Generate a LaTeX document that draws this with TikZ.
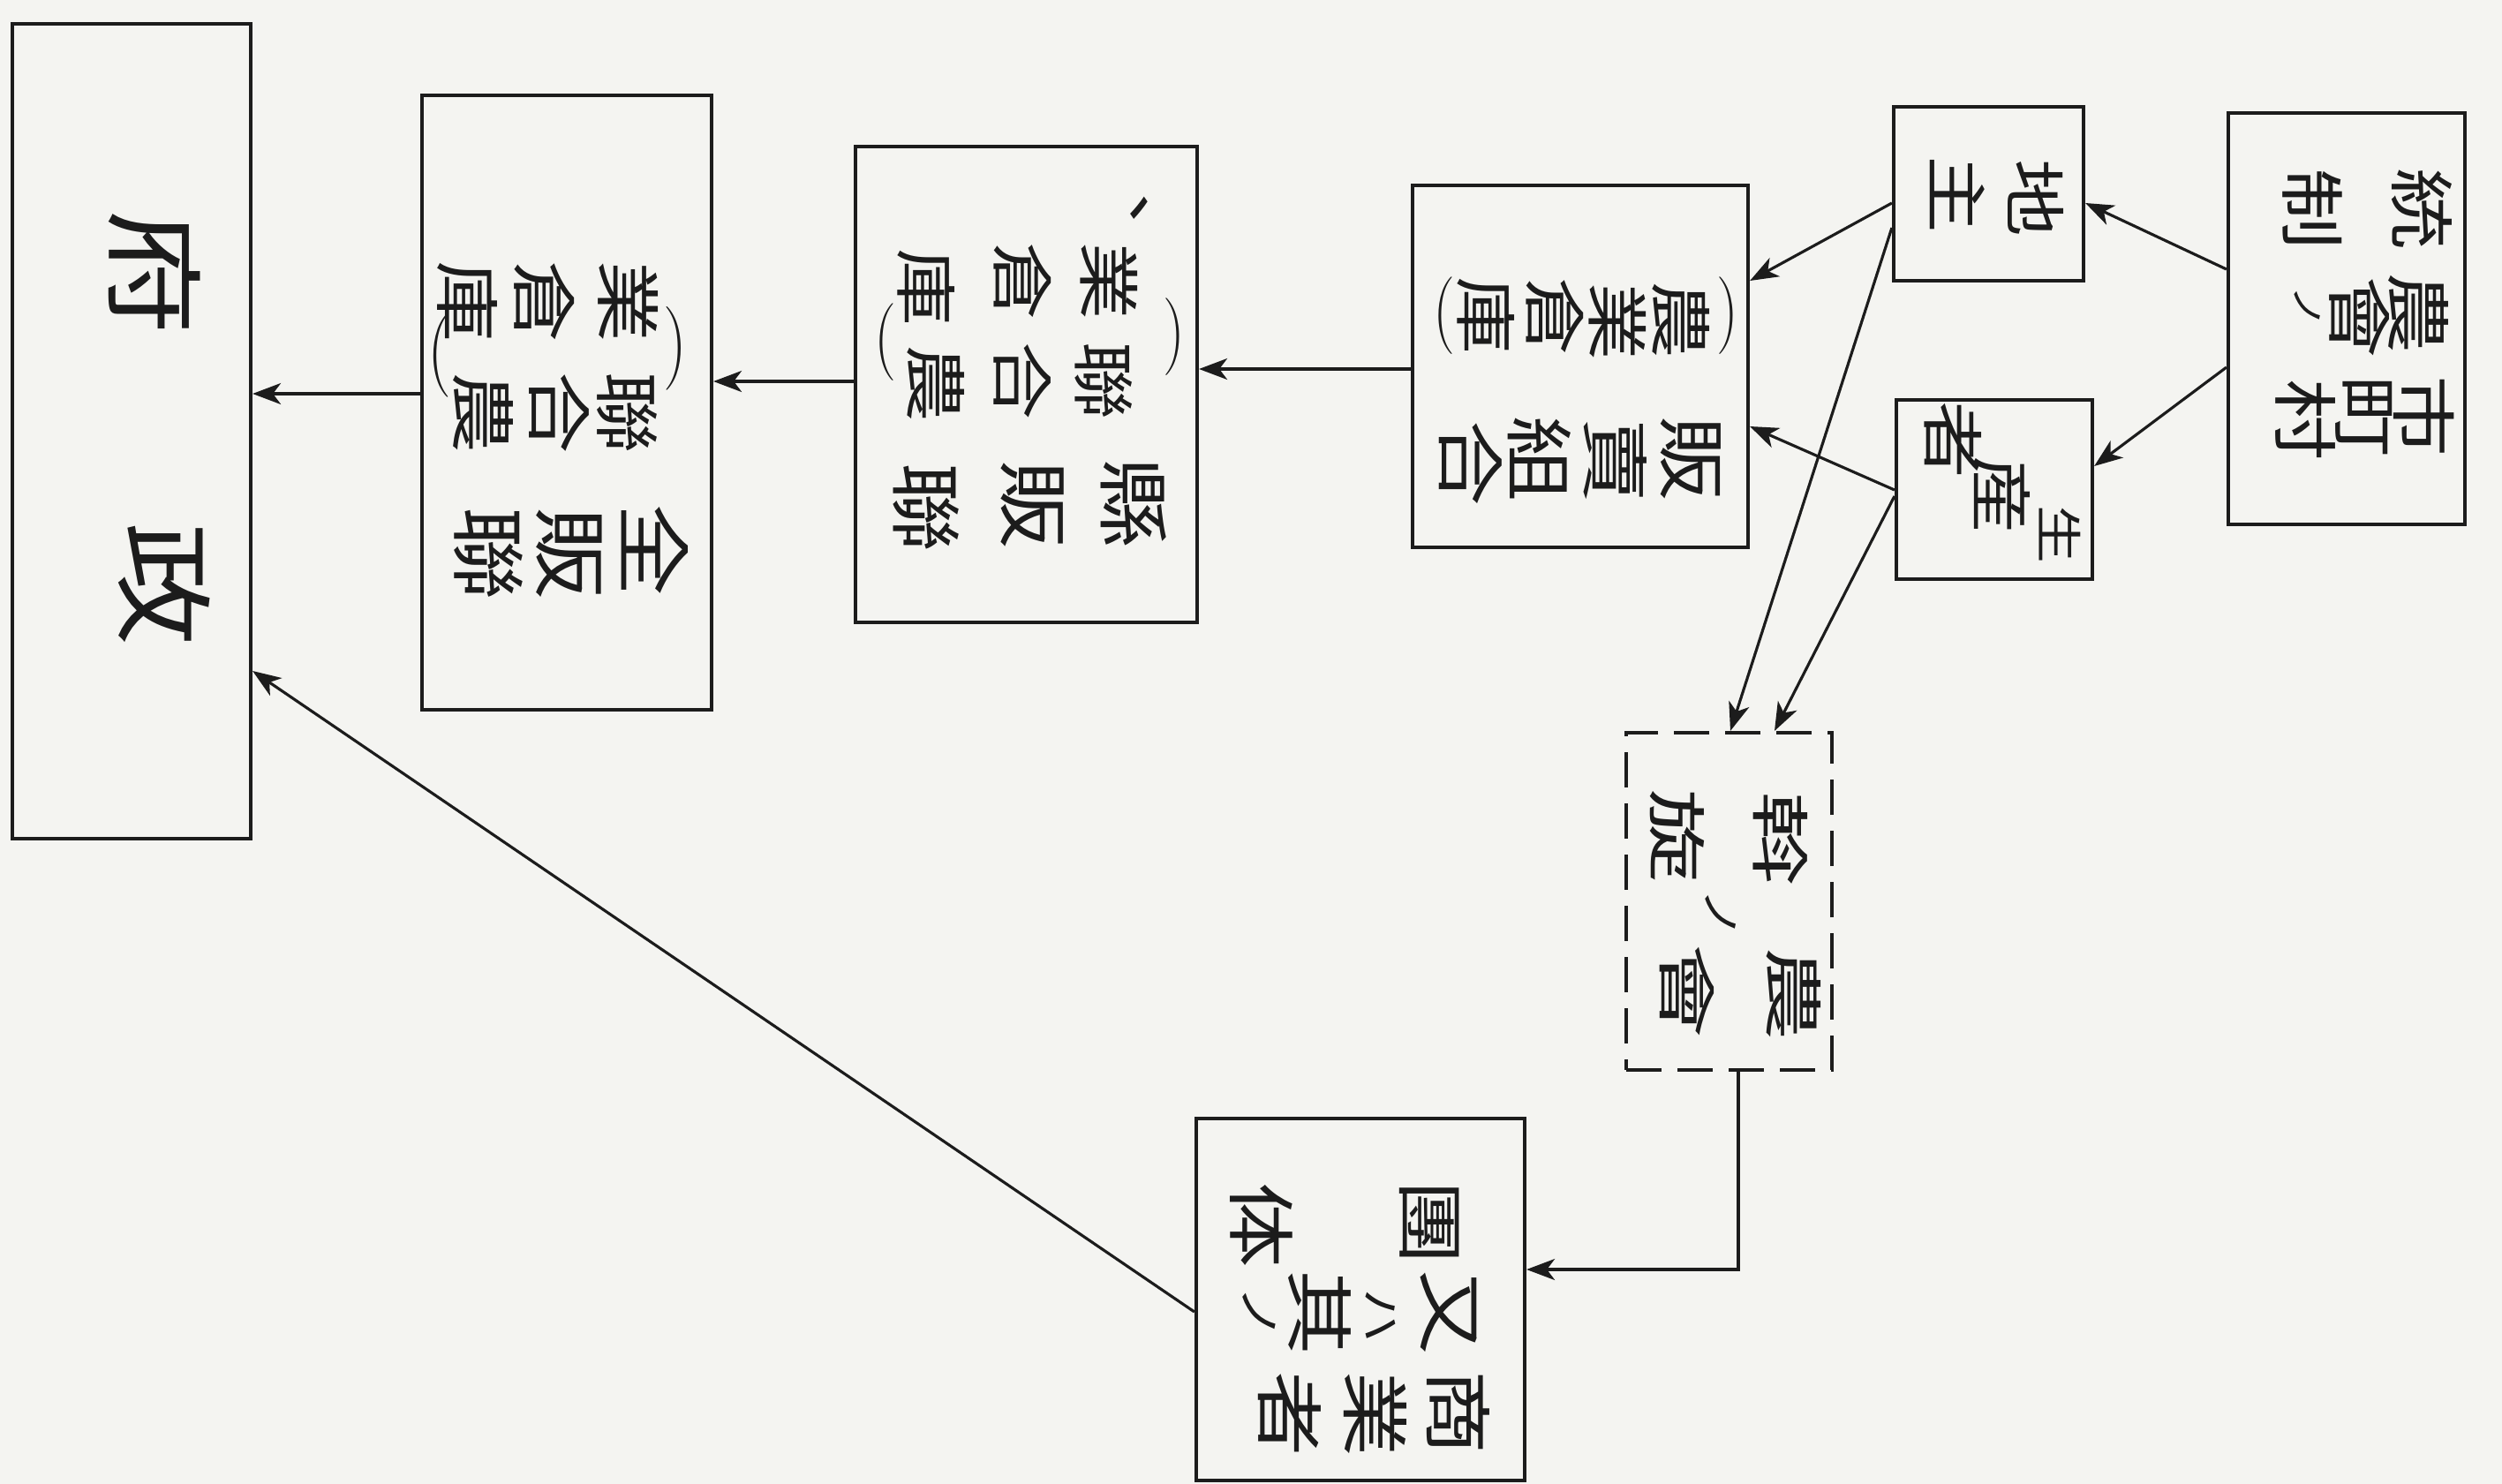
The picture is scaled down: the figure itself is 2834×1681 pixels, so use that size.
\documentclass[tikz,border=0pt]{standalone}
\usepackage{fontspec}
\newfontfamily\jp[FakeStretch=1.25]{Noto Sans CJK JP}
\newfontfamily\jph[FakeStretch=1.6]{Noto Sans CJK JP}
\usetikzlibrary{arrows.meta,calc,fit}
\definecolor{ink}{RGB}{28,28,28}
\definecolor{paper}{RGB}{244,244,241}
\tikzset{
  box/.style={draw=ink, line width=1.2pt, inner sep=0pt},
  dbox/.style={box, dash pattern=on 4mm off 1.8mm},
  g/.style={font=\jp\fontsize{#1}{#1}\selectfont, rotate=-90, inner sep=0pt, text=ink},
  gh/.style={font=\jph\fontsize{#1}{#1}\selectfont, rotate=-90, inner sep=0pt, text=ink},
  par/.style={font=\rmfamily\fontsize{#1}{#1}\selectfont, inner sep=0pt, text=ink},
  arr/.style={draw=ink, line width=0.9pt, -{Stealth[length=3.2mm,width=2.4mm,inset=0.9mm]}},
}
\newcommand{\rpar}{\scalebox{0.8}[1]{)}}
\newcommand{\lpar}{\scalebox{0.8}[1]{(}}
\begin{document}
\begin{tikzpicture}[x=0.1mm,y=-0.1mm]
\fill[paper] (0,0) rectangle (2834,1681);
\useasboundingbox (0,0) rectangle (2834,1681);

% boxes
\node[box, fit={(14,27) (284,950)}] (A) {};
\node[box, fit={(478,108) (806,804)}] (B) {};
\node[box, fit={(969,166) (1356,705)}] (C) {};
\node[box, fit={(1600,210) (1980,620)}] (D) {};
\node[box, fit={(2145,121) (2360,318)}] (E) {};
\node[box, fit={(2148,453) (2370,656)}] (F) {};
\node[box, fit={(2524,128) (2792,594)}] (G) {};
\node[dbox, fit={(1842,830) (2075,1212)}] (H) {};
\node[box, fit={(1355,1267) (1727,1677)}] (I) {};

% text of A
\foreach \c/\px/\py [count=\i] in {府/175/309, 政/186/662}
  \node[g=32] (ta\i) at (\px,\py) {\c};
% text of B
\foreach \c/\px/\py [count=\i] in {全/742/623, 販/645/627, 聯/553/627}
  \node[g=24] (tb\i) at (\px,\py) {\c};
\foreach \c/\px/\py [count=\i] in {聯/710/468, 合/633/468, 農/547/468, 業/712/342, 倉/617/342, 庫/530/342}
  \node[g=21] (tbb\i) at (\px,\py) {\c};
\node[par=27] (pb1) at (765,395) {\rpar};
\node[par=27] (pb2) at (498,403) {\lpar};
% text of C
\foreach \c/\px/\py [count=\i] in {縣/1284/570, 販/1170/572, 聯/1049/575}
  \node[g=23] (tc\i) at (\px,\py) {\c};
\foreach \c/\px/\py [count=\i] in {聯/1250/431, 合/1158/431, 農/1060/434, 業/1256/318, 倉/1158/318, 庫/1049/325, 、/1290/262}
  \node[g=20] (tcc\i) at (\px,\py) {\c};
\node[par=25] (pc1) at (1330,382) {\rpar};
\node[par=25] (pc2) at (1003,388) {\lpar};
% text of D
\foreach \c/\px/\py [count=\i] in {販/1915/520, 賣/1830/522, 組/1744/520, 合/1666/525}
  \node[g=22] (td\i) at (\px,\py) {\c};
\foreach \c/\px/\py [count=\i] in {農/1904/362, 業/1832/364, 倉/1761/358, 庫/1683/357}
  \node[g=20] (tdd\i) at (\px,\py) {\c};
\node[par=25] (pd1) at (1957,358) {\rpar};
\node[par=25] (pd2) at (1636,358) {\lpar};
% text of E
\foreach \c/\px/\py [count=\i] in {地/2306/224, 主/2217/220}
  \node[g=20] (te\i) at (\px,\py) {\c};
% text of F
\foreach \c/\px/\py [count=\i] in {者/2212/498, 産/2267/560}
  \node[g=20] (tf\i) at (\px,\py) {\c};
\node[g=15] (tf3) at (2333,605) {生};
% text of G
\foreach \c/\px/\py [count=\i] in {統/2743/237, 制/2619/237, 農/2739/355, 會/2673/360, 市/2746/472, 町/2678/472, 村/2612/476}
  \node[g=21] (tg\i) at (\px,\py) {\c};
\node[g=11] (tg8) at (2614,348) {ノ};
% text of H
\foreach \c/\px/\py [count=\i] in {斡/2017/950, 旋/1900/947, 農/2032/1126, 會/1911/1123}
  \node[gh=19] (th\i) at (\px,\py) {\c};
\node[g=13] (th5) at (1949,1035) {ノ};
% text of I
\foreach \c/\px/\py [count=\i] in {商/1652/1600, 業/1558/1602, 者/1461/1602, 又/1641/1487, 其/1495/1487, 團/1619/1385, 体/1429/1388}
  \node[g=22] (ti\i) at (\px,\py) {\c};
\node[g=14] (ti8) at (1564,1490) {ハ};
\node[g=14] (ti9) at (1426,1487) {ノ};

% connectors
\draw[arr] (B.west |- 0,446) -- (A.east |- 0,446);
\draw[arr] (C.west |- 0,432) -- (B.east |- 0,432);
\draw[arr] (D.west |- 0,418) -- (C.east |- 0,418);
\draw[arr] (E.west |- 0,230) -- (D.east |- 0,318);
\draw[arr] (F.west |- 0,555) -- (D.east |- 0,483);
\draw[arr] (G.west |- 0,305) -- (E.east |- 0,230);
\draw[arr] (G.west |- 0,416) -- (F.east |- 0,528);
\draw[arr] (E.west |- 0,258) -- (H.north -| 1960,0);
\draw[arr] (F.west |- 0,562) -- (H.north -| 2010,0);
\draw[arr] (H.south -| 1969,0) |- (I.east |- 0,1438);
\draw[arr] (I.west |- 0,1486) -- (A.east |- 0,760);
\end{tikzpicture}
\end{document}
